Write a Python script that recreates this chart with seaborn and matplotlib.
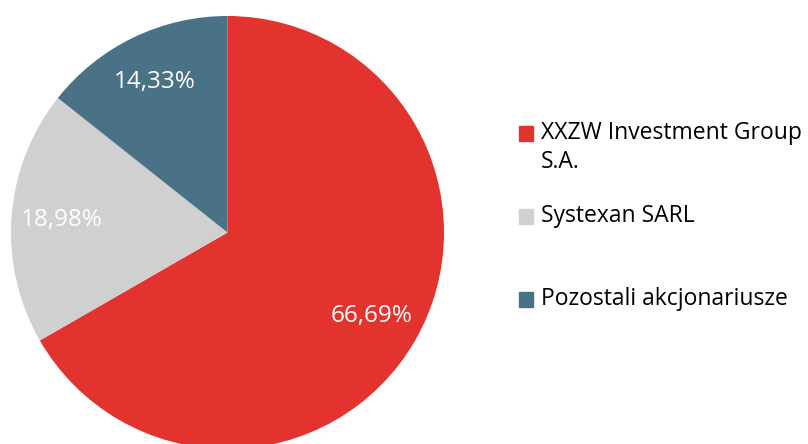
import matplotlib
matplotlib.use("Agg")
import matplotlib.pyplot as plt
import seaborn as sns
from matplotlib.patches import Rectangle

sns.set_theme(style="white")
plt.rcParams["font.family"] = ["Open Sans", "DejaVu Sans"]

# dane
labels = ["XXZW Investment Group\nS.A.", "Systexan SARL", "Pozostali akcjonariusze"]
shares = [66.69, 18.98, 14.33]
colors = ["#E2332E", "#D0D0D0", "#4A7286"]

W, H = 808, 444
fig = plt.figure(figsize=(W / 100, H / 100), dpi=100)

# pie axes in pixel coords (center 227.5, 232.5 from top, r=216.5)
r = 216.5
cx, cy = 227.5, 232.5
ax = fig.add_axes([(cx - r) / W, (H - cy - r) / H, 2 * r / W, 2 * r / H])

wedges, texts, autotexts = ax.pie(
    shares, colors=colors, startangle=90, counterclock=False,
    autopct=lambda p: f"{p:.2f}%".replace(".", ","), pctdistance=0.77,
    wedgeprops=dict(linewidth=0), textprops=dict(color="white", fontsize=17.5),
)
ax.set_xlim(-1, 1)
ax.set_ylim(-1, 1)
ax.set_aspect("equal")

# legenda - reczne pozycje jak w oryginale
box_y = [133.5, 216.5, 299]
text_y = [147.5, 216.5, 299]
for lab, col, yb, yt in zip(labels, colors, box_y, text_y):
    fig.patches.append(Rectangle((519 / W, (H - yb - 7.5) / H), 14 / W, 15 / H,
                                 transform=fig.transFigure, color=col, figure=fig))
    fig.text(541 / W, (H - yt) / H, lab, fontsize=16.5, color="#000000",
             va="center", ha="left", linespacing=1.3)

fig.savefig("out.png", dpi=100)
